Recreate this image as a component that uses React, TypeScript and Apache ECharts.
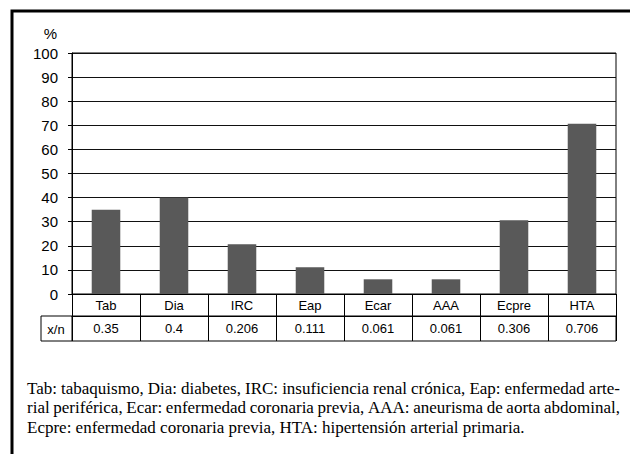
import React, { useEffect, useRef } from "react";
import * as echarts from "echarts";

const categories = ["Tab", "Dia", "IRC", "Eap", "Ecar", "AAA", "Ecpre", "HTA"];
const ratios = ["0.35", "0.4", "0.206", "0.111", "0.061", "0.061", "0.306", "0.706"];
const percentValues = [35, 40, 20.6, 11.1, 6.1, 6.1, 30.6, 70.6];
const yTicks = { min: 0, max: 100, interval: 10 };
const footerLines = [
  "Tab: tabaquismo, Dia: diabetes, IRC: insuficiencia renal crónica, Eap: enfermedad arte-",
  "rial periférica, Ecar: enfermedad coronaria previa, AAA: aneurisma de aorta abdominal,",
  "Ecpre: enfermedad coronaria previa, HTA: hipertensión arterial primaria.",
];
const footerJustified = [true, true, false];

export default function App() {
  const ref = useRef<HTMLDivElement>(null);
  useEffect(() => {
    document.body.style.margin = "0";
    const chart = echarts.init(ref.current!, null, { renderer: "svg" });
    const sans = "'Liberation Sans', Arial, sans-serif";
    const serifName = "'Liberation Serif', 'Times New Roman', serif";
    const footSize = 17;
    const footLeft = 27;
    const footRight = 620;
    const footTop = 388;
    const footStep = 19.5;

    const canvas = document.createElement("canvas");
    const ctx = canvas.getContext("2d")!;
    ctx.font = `${footSize}px ${serifName}`;

    const footerEls: any[] = [];
    footerLines.forEach((line, i) => {
      const y = footTop + i * footStep;
      const words = line.split(" ");
      if (!footerJustified[i]) {
        footerEls.push({
          type: "text",
          x: footLeft,
          y,
          style: {
            text: line,
            fill: "#000",
            fontSize: footSize,
            fontFamily: serifName,
            align: "left",
            verticalAlign: "middle",
          },
        });
        return;
      }
      const widths = words.map((w) => ctx.measureText(w).width);
      const total = widths.reduce((a, b) => a + b, 0);
      const gap = (footRight - footLeft - total) / (words.length - 1);
      let x = footLeft;
      words.forEach((w, j) => {
        footerEls.push({
          type: "text",
          x,
          y,
          style: {
            text: w,
            fill: "#000",
            fontSize: footSize,
            fontFamily: serifName,
            align: "left",
            verticalAlign: "middle",
          },
        });
        x += widths[j] + gap;
      });
    });

    chart.setOption({
      animation: false,
      backgroundColor: "#fff",
      grid: {
        left: 72,
        right: 14,
        top: 53,
        bottom: 160,
        show: true,
        borderColor: "#000",
        borderWidth: 1,
      },
      xAxis: [
        {
          type: "category",
          data: categories,
          position: "bottom",
          axisLine: { lineStyle: { color: "#000", width: 1 } },
          axisTick: { show: true, length: 22, lineStyle: { color: "#000" } },
          axisLabel: { color: "#000", fontSize: 13, fontFamily: sans, margin: 5 },
          splitLine: { show: false },
        },
        {
          type: "category",
          data: ratios,
          position: "bottom",
          offset: 22,
          axisLine: { lineStyle: { color: "#000", width: 1 } },
          axisTick: { show: true, length: 25, lineStyle: { color: "#000" } },
          axisLabel: { color: "#000", fontSize: 13, fontFamily: sans, margin: 6 },
          splitLine: { show: false },
        },
      ],
      yAxis: {
        type: "value",
        min: yTicks.min,
        max: yTicks.max,
        interval: yTicks.interval,
        name: "%",
        nameLocation: "end",
        nameGap: 20,
        nameTextStyle: {
          color: "#000",
          fontSize: 15,
          fontFamily: sans,
          align: "right",
          verticalAlign: "middle",
          padding: [0, 15, 0, 0],
        },
        axisLine: { show: true, lineStyle: { color: "#000" } },
        axisTick: { show: true, length: 4, lineStyle: { color: "#000" } },
        axisLabel: {
          color: "#000",
          fontSize: 15,
          fontFamily: sans,
          margin: 14,
          padding: [6, 0, 0, 0],
        },
        splitLine: { show: true, lineStyle: { color: "#111", width: 1 } },
      },
      series: [
        {
          type: "bar",
          xAxisIndex: 0,
          data: percentValues,
          barWidth: "42%",
          itemStyle: { color: "#595959" },
        },
      ],
      graphic: [
        {
          type: "rect",
          shape: { x: 12, y: 11, width: 700, height: 500 },
          style: { fill: "none", stroke: "#000", lineWidth: 3 },
          silent: true,
        },
        {
          type: "rect",
          shape: { x: 41, y: 316, width: 575, height: 25 },
          style: { fill: "none", stroke: "#000", lineWidth: 1 },
          silent: true,
        },
        {
          type: "line",
          shape: { x1: 72, y1: 316, x2: 72, y2: 341 },
          style: { stroke: "#000", lineWidth: 1 },
          silent: true,
        },
        {
          type: "text",
          x: 56,
          y: 329,
          style: {
            text: "x/n",
            fill: "#000",
            fontSize: 13,
            fontFamily: sans,
            align: "center",
            verticalAlign: "middle",
          },
        },
        ...footerEls,
      ],
    });
    return () => chart.dispose();
  }, []);
  return <div ref={ref} style={{ width: 630, height: 454 }} />;
}
